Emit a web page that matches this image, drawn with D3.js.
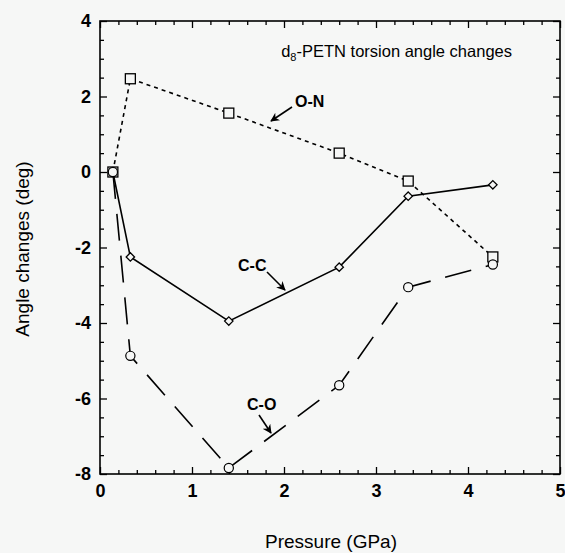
<!DOCTYPE html>
<html>
<head>
<meta charset="utf-8">
<script src="https://cdn.jsdelivr.net/npm/d3@7"></script>
<style>
  body { margin: 0; background: #f6f7f6; }
  svg { display: block; font-family: "Liberation Sans", Arial, sans-serif; }
</style>
</head>
<body>
<svg id="chart" width="565" height="553"></svg>
<script>
// pressure values (GPa)
const pressure = [0.14, 0.33, 1.4, 2.6, 3.35, 4.27];
// torsion angle changes (deg)
const onValues = [0, 2.47, 1.56, 0.5, -0.24, -2.25];
const ccValues = [0, -2.25, -3.95, -2.52, -0.64, -0.34];
const coValues = [0, -4.87, -7.84, -5.65, -3.05, -2.45];

const xTicks = [0, 1, 2, 3, 4, 5];
const yTicks = [-8, -6, -4, -2, 0, 2, 4];

var svg = d3.select("#chart");
var bg = "#f6f7f6";

var x = d3.scaleLinear().domain([0, 5]).range([100, 560]);
var y = d3.scaleLinear().domain([-8, 4]).range([474, 21]);

var xMinor = d3.range(0, 5.01, 0.2).filter(function(v) { return Math.abs(v - Math.round(v)) > 0.01; });
var yMinor = d3.range(-8, 4.01, 0.5).filter(function(v) { return Math.abs(v / 2 - Math.round(v / 2)) > 0.01; });

svg.append("defs").append("marker")
  .attr("id", "arrow").attr("viewBox", "0 0 10 10")
  .attr("refX", 9).attr("refY", 5)
  .attr("markerWidth", 9).attr("markerHeight", 9)
  .attr("markerUnits", "userSpaceOnUse")
  .attr("orient", "auto")
  .append("path").attr("d", "M0,0 L10,5 L0,10 L3,5 Z").attr("fill", "#000");

// axes, ticks inward on all four sides
function styleAxis(g) {
  g.select(".domain").remove();
  g.selectAll(".tick line").attr("stroke", "#000").attr("stroke-width", 1.3);
  g.selectAll("text").attr("font-size", 18).attr("font-weight", "bold").attr("fill", "#000");
}
var plain = function(d) { return String(d); };

svg.append("g").attr("transform", "translate(0,474)")
  .call(d3.axisBottom(x).tickValues(xTicks).tickSize(-7).tickPadding(10).tickFormat(plain))
  .call(styleAxis);
svg.append("g").attr("transform", "translate(0,474)")
  .call(d3.axisBottom(x).tickValues(xMinor).tickSize(-4).tickFormat(""))
  .call(styleAxis);
svg.append("g").attr("transform", "translate(0,21)")
  .call(d3.axisTop(x).tickValues(xTicks).tickSize(-7).tickFormat(""))
  .call(styleAxis);
svg.append("g").attr("transform", "translate(0,21)")
  .call(d3.axisTop(x).tickValues(xMinor).tickSize(-4).tickFormat(""))
  .call(styleAxis);

svg.append("g").attr("transform", "translate(100,0)")
  .call(d3.axisLeft(y).tickValues(yTicks).tickSize(-7).tickPadding(9).tickFormat(plain))
  .call(styleAxis);
svg.append("g").attr("transform", "translate(100,0)")
  .call(d3.axisLeft(y).tickValues(yMinor).tickSize(-4).tickFormat(""))
  .call(styleAxis);
svg.append("g").attr("transform", "translate(560,0)")
  .call(d3.axisRight(y).tickValues(yTicks).tickSize(-7).tickFormat(""))
  .call(styleAxis);
svg.append("g").attr("transform", "translate(560,0)")
  .call(d3.axisRight(y).tickValues(yMinor).tickSize(-4).tickFormat(""))
  .call(styleAxis);

svg.append("rect").attr("x", x(0)).attr("y", y(4))
  .attr("width", x(5) - x(0)).attr("height", y(-8) - y(4))
  .attr("fill", "none").attr("stroke", "#000").attr("stroke-width", 1.6);

// series lines
var line = d3.line().x(function(d) { return x(d[0]); }).y(function(d) { return y(d[1]); });

function series(values, dash) {
  var pts = pressure.map(function(p, i) { return [p, values[i]]; });
  svg.append("path").datum(pts).attr("d", line)
    .attr("fill", "none").attr("stroke", "#000").attr("stroke-width", 1.6)
    .attr("stroke-dasharray", dash);
  return pts;
}

var onPts = series(onValues, "4,4");
var ccPts = series(ccValues, null);
var coPts = series(coValues, "27,15");

svg.selectAll(".sq").data(onPts).enter().append("rect")
  .attr("x", function(d) { return x(d[0]) - 5; }).attr("y", function(d) { return y(d[1]) - 5; })
  .attr("width", 10).attr("height", 10)
  .attr("fill", bg).attr("stroke", "#000").attr("stroke-width", 1.3);

svg.selectAll(".dm").data(ccPts).enter().append("path")
  .attr("d", d3.symbol(d3.symbolDiamond2, 45))
  .attr("transform", function(d) { return "translate(" + x(d[0]) + "," + y(d[1]) + ")"; })
  .attr("fill", bg).attr("stroke", "#000").attr("stroke-width", 1.3);

svg.selectAll(".ci").data(coPts).enter().append("circle")
  .attr("cx", function(d) { return x(d[0]); }).attr("cy", function(d) { return y(d[1]); })
  .attr("r", 4.6)
  .attr("fill", bg).attr("stroke", "#000").attr("stroke-width", 1.2);

// annotations
function note(label, tx, ty, x1, y1, x2, y2) {
  svg.append("text").attr("x", tx).attr("y", ty)
    .attr("font-size", 16).attr("font-weight", "bold").text(label);
  svg.append("line").attr("x1", x1).attr("y1", y1).attr("x2", x2).attr("y2", y2)
    .attr("stroke", "#000").attr("stroke-width", 1.6).attr("marker-end", "url(#arrow)");
}
note("O-N", 295, 107, 292, 107, 271, 121);
note("C-C", 238, 271, 267, 272, 285, 290);
note("C-O", 247, 410, 259, 415, 271, 433);

// title
var title = svg.append("text").attr("x", 512).attr("y", 57)
  .attr("text-anchor", "end").attr("font-size", 16.5);
title.append("tspan").text("d");
title.append("tspan").attr("font-size", 11).attr("dy", 4).text("8");
title.append("tspan").attr("dy", -4).text("-PETN torsion angle changes");

// axis labels
svg.append("text").attr("text-anchor", "middle").attr("x", 331).attr("y", 548)
  .attr("font-size", 19).text("Pressure (GPa)");
svg.append("text").attr("text-anchor", "middle")
  .attr("transform", "translate(29,249) rotate(-90)")
  .attr("font-size", 19).text("Angle changes (deg)");
</script>
</body>
</html>
